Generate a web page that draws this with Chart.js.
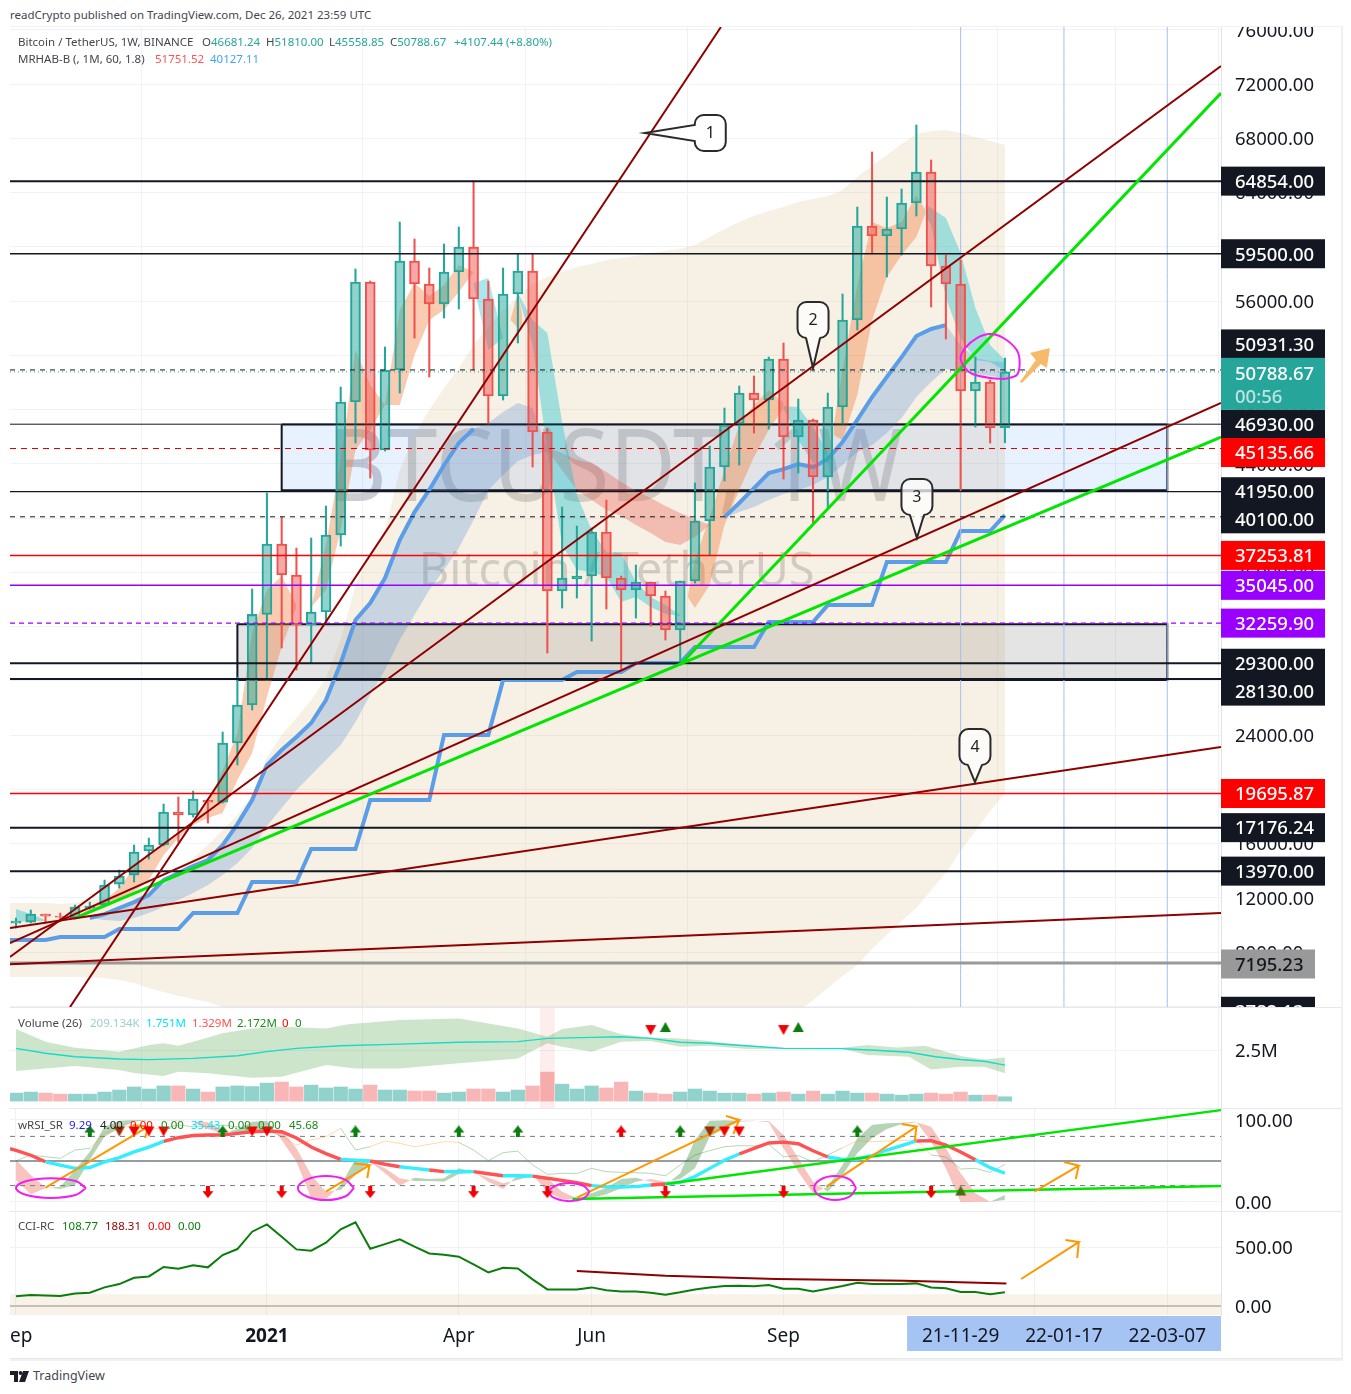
<!DOCTYPE html>
<html>
<head>
<meta charset="utf-8">
<title>BTCUSDT 1W</title>
<script src="https://cdn.jsdelivr.net/npm/chart.js@4"></script>
<style>
html, body { margin: 0; padding: 0; background: #fff; }
body { width: 1351px; height: 1394px; position: relative; overflow: hidden; font-family: "Noto Sans", sans-serif; }
canvas { position: absolute; left: 10px; background: #fff; }
#frame { position: absolute; left: 10px; top: 26px; width: 1331px; height: 1332px; background: #e6e8ee; border-right: 2px solid #f0f1f5; border-top: 1px solid #f0f1f5; border-bottom: 2px solid #f0f1f5; }
.t { position: absolute; white-space: nowrap; font-size: 11.5px; line-height: 14px; color: #43464f; z-index: 5; }
.up { color: #26a69a; }
</style>
</head>
<body>
<div id="frame"></div>
<canvas id="mainChart"></canvas>
<canvas id="volChart"></canvas>
<canvas id="rsiChart"></canvas>
<canvas id="cciChart"></canvas>

<div class="t" style="left:10px;top:8px">readCrypto published on TradingView.com, Dec 26, 2021 23:59 UTC</div>
<div class="t" style="left:18px;top:35px">Bitcoin / TetherUS, 1W, BINANCE</div>
<div class="t" style="left:202px;top:35px">O<span class="up">46681.24</span></div>
<div class="t" style="left:266px;top:35px">H<span class="up">51810.00</span></div>
<div class="t" style="left:329px;top:35px">L<span class="up">45558.85</span></div>
<div class="t" style="left:390px;top:35px">C<span class="up">50788.67</span></div>
<div class="t up" style="left:454px;top:35px">+4107.44 (+8.80%)</div>
<div class="t" style="left:18px;top:52px">MRHAB-B (, 1M, 60, 1.8)</div>
<div class="t" style="left:155px;top:52px;color:#ff5252">51751.52</div>
<div class="t" style="left:210px;top:52px;color:#42a5f5">40127.11</div>

<div class="t" style="left:18px;top:1016px">Volume (26)</div>
<div class="t" style="left:90px;top:1016px;color:#98d0ca">209.134K</div>
<div class="t" style="left:146px;top:1016px;color:#00e5ff">1.751M</div>
<div class="t" style="left:192px;top:1016px;color:#ff5252">1.329M</div>
<div class="t" style="left:237px;top:1016px;color:#1b8a1b">2.172M</div>
<div class="t" style="left:282px;top:1016px;color:#f00">0</div>
<div class="t" style="left:295px;top:1016px;color:#1b8a1b">0</div>

<div class="t" style="left:18px;top:1118px">wRSI_SR</div>
<div class="t" style="left:69px;top:1118px;color:#1a1aff">9.29</div>
<div class="t" style="left:100px;top:1118px;color:#222">4.00</div>
<div class="t" style="left:130px;top:1118px;color:#f00">0.00</div>
<div class="t" style="left:161px;top:1118px;color:#1b8a1b">0.00</div>
<div class="t" style="left:191px;top:1118px;color:#00e5ff">35.43</div>
<div class="t" style="left:228px;top:1118px;color:#1b8a1b">0.00</div>
<div class="t" style="left:258px;top:1118px;color:#1b8a1b">0.00</div>
<div class="t" style="left:289px;top:1118px;color:#1b8a1b">45.68</div>

<div class="t" style="left:18px;top:1219px">CCI-RC</div>
<div class="t" style="left:62px;top:1219px;color:#0a7d0a">108.77</div>
<div class="t" style="left:105px;top:1219px;color:#8b0000">188.31</div>
<div class="t" style="left:148px;top:1219px;color:#f00">0.00</div>
<div class="t" style="left:178px;top:1219px;color:#0a7d0a">0.00</div>

<svg style="position:absolute;left:10px;top:1371px" width="20" height="11" viewBox="0 0 20 11">
  <path d="M0 0h8v11H4V4H0z M9 11l4-11h6l-4 11z" fill="#1c1f28"/><circle cx="10.5" cy="2" r="1.9" fill="#1c1f28"/>
</svg>
<div class="t" style="left:33px;top:1369px;font-size:12.5px">TradingView</div>

<script>
const opens = [10141,10214,10804,10657,10509,11247,11468,13017,13681,15454,15896,18327,18106,19212,19064,23416,26218,32903,38092,35806,32118,33077,38756,48565,57415,45024,50924,58963,57267,55792,58152,59996,56161,49007,56530,58226,46352,34626,35511,35732,38977,35585,34702,35290,34257,31750,35363,39788,43771,46942,49228,48712,51736,45984,47237,43033,48196,54612,61545,60807,61323,63241,65527,58595,57267,49376,50040,46681];
const closes = [10288,10804,10657,10583,11321,11395,12943,13607,15377,15896,18327,18106,19286,19064,23416,26218,32903,38092,35806,32118,33077,38756,48565,57415,45024,50924,58963,57267,55792,58152,59996,56161,49007,56530,58226,46352,34626,35585,35732,38977,35585,34702,35290,34257,31750,35363,39788,43771,46868,49228,48712,51736,45984,47237,43033,48196,54612,61545,60807,61323,63241,65527,58595,57267,49376,50040,46647,50788];
const highs = [10509,11100,10804,10878,11468,11690,13312,14050,15896,16410,18917,19433,19876,19286,24227,28283,34773,41854,40083,37797,38535,40894,49671,58373,57488,52621,61840,60586,58447,60217,61471,64863,57488,58447,59480,59480,46647,40821,39419,39272,41337,35732,36543,35290,34626,35363,42590,45319,48122,49744,50482,51883,52916,48786,47311,49228,56530,62946,67002,63683,64273,68993,66412,59406,59037,51883,50188,51810];
const lows = [9772,10141,10141,10288,10435,11174,11395,12722,13165,14861,15822,16114,17958,17516,18990,21793,25850,28062,30422,28800,29316,32340,37944,45541,42959,44951,49228,53285,50409,54760,55423,50924,46868,48712,52916,43771,30053,33372,34110,30938,33298,28800,32635,32045,31012,29316,35216,37281,42738,43918,46278,46573,42886,43328,39641,40821,46868,53875,59480,57783,59406,62282,55571,53211,42075,46721,45541,45558];
const volumes = [0.39,0.44,0.39,0.34,0.34,0.34,0.44,0.54,0.69,0.59,0.74,0.74,0.59,0.44,0.69,0.74,0.71,0.88,0.93,0.69,0.78,0.64,0.69,0.59,0.78,0.54,0.54,0.49,0.49,0.39,0.44,0.59,0.59,0.44,0.54,0.74,1.42,0.83,0.59,0.74,0.64,0.93,0.49,0.39,0.34,0.44,0.59,0.49,0.39,0.39,0.34,0.39,0.44,0.34,0.49,0.34,0.49,0.39,0.39,0.34,0.29,0.34,0.39,0.34,0.44,0.29,0.29,0.21];

const mainTicks = [76000,72000,68000,64000,60000,56000,52000,48000,44000,40000,36000,32000,28000,24000,20000,16000,12000,8000,4000];
const xTicks = [0,17,30,39,52,64,69,71,78];
const xTickLabels = ["Sep","2021","Apr","Jun","Sep","21-11-29","","22-01-17","22-03-07"];

// MRHAB-B cloud, index by week
const beigeTop = [11620,11620,11620,11540,11620,11840,11980,12200,12430,12580,12940,13900,14940,15890,17000,18110,19580,22310,24010,25260,26590,28210,31010,35070,37280,39120,43550,46130,47970,49600,51070,52770,54100,55350,56310,57270,57780,58150,58520,58740,59040,59190,59330,59550,59700,59850,60140,60730,61320,61840,62280,62650,62950,63310,63540,63760,64200,65160,65970,66780,67590,68330,68550,68620,68400,68110,67810,67520];
const beigeBottom = [6160,6160,6160,6160,6160,6160,6080,5940,5720,5350,5050,4760,4540,4310,3950,3580,3140,2250,2250,2250,2250,2250,2250,2250,2250,2250,2250,2250,2250,2250,2250,2250,2250,2250,2250,2250,2250,2250,2250,2250,2250,2250,2250,2250,2250,2250,2250,2250,2250,2250,2250,2400,2840,3650,4460,5350,6230,7040,8220,9260,10290,11250,12580,13830,15450,16930,18400,19730];
const stepLine = [8890,8890,8890,9110,9110,9110,9110,9700,9700,9700,9700,9700,10880,10880,10880,10880,13170,13170,13170,13170,15600,15600,15600,15600,19210,19210,19210,19210,19210,24000,24000,24000,24000,28060,28060,28060,28060,28060,28650,28650,28650,28650,29320,29320,29320,29320,30500,30500,30500,30500,30500,32340,32340,32340,32340,33590,33590,33590,33590,36760,36760,36760,36760,36760,39050,39050,39050,40230];

// bands as [week, top, bottom]
const orangeBands = [
  [[4,10510,10510],[5,11250,10950],[6,11840,11250],[7,12720,11840],[8,14270,12430],[9,15300,13310],[10,15900,15160],[11,16630,16410],[12,17590,17370],[13,18990,17880],[14,21420,18250],[15,24150,20690],[16,31530,22680],[17,34700,26810],[18,35730,30500],[19,33590,33450]],
  [[20,33450,33450],[21,38020,34700],[22,44290,39120],[23,52400,45020],[24,49820,46500],[25,48340,48340]],
  [[25,48340,48340],[26,55350,48340],[27,57340,52030],[28,56380,54610],[29,57190,55350],[30,58670,56680],[31,58150,58150]],
  [[33.5,54610,54610],[34,56600,54020],[34.3,55000,54000]],
  [[45.5,34200,34200],[46,36910,33370],[47,40080,35070],[48,43550,39490],[49,46870,42070],[50,48340,44510],[51,49450,46500],[52,48490,48120]],
  [[55.4,46870,46130],[56,50920,45760],[57,57190,49080],[58,61840,54610],[59,61400,57780],[60,61840,59410],[61,63830,60730],[61.6,62720,62430]]
];
const cyanBands = [
  [[0,11170,10210],[1,10800,10290],[2,10360,10290]],
  [[31,57340,57190],[32,57710,52400],[33,53280,53280]],
  [[34,56600,56450],[35,54610,52770],[36,53650,45020],[37,47090,38020],[38,41700,36170],[39,39120,36030],[40,37500,35660],[41,37430,33820],[42,35290,34180],[43,34180,33450],[44,33590,32930],[45,32860,32780]],
  [[52,48270,48120],[53,48200,45760],[54,46720,44070],[55,44880,44440]],
  [[61.6,63090,62350],[62,62870,61620],[63,62130,56240],[64,59550,53280],[65,55500,51660],[66,52770,51510],[67,51660,50850]]
];
const pinkBand = [[36,45170,45020],[37,44800,43550],[38,44290,42080],[39,44070,41340],[40,43400,40600],[41,42670,40160],[42,42000,39490],[43,41480,38900],[44,40900,38240],[45,40380,38020],[46,39940,38610],[47,39490,39490]];
const blueBandA = [[5,10510,10510],[6,10800,10360],[7,11250,10290],[8,11690,10510],[9,12200,10880],[10,13310,11320],[11,13830,11840],[12,14350,12350],[13,14790,12940],[14,15890,13680],[15,17440,14570],[16,19210,15670],[17,21790,17290],[18,22900,18620],[19,23860,19950],[20,24890,21050],[21,26590,22160],[22,29320,23270],[23,32490,24970],[24,33740,26960],[25,35580,28800],[26,38390,31010],[27,40450,32860],[28,42080,34700],[29,43920,36170],[30,45540,37800],[31,46570,39860],[32,47020,42080],[33,47830,43180],[34,48490,44210],[35,48120,44660],[36,45020,44880]];
const blueBandB = [[48,40080,40010],[49,41120,40450],[50,42220,40820],[51,43330,41340],[52,43620,41780],[53,43990,42080],[54,43770,42440],[55,44360,43030],[56,45620,43920],[57,47240,44880],[58,48930,45390],[59,50410,46280],[60,51880,47380],[61,53430,48930],[62,53950,50040],[63,54240,51000],[64,52770,50780],[65,51810,50630],[66,51590,50480],[67,51510,50330]];

// drawn levels and trend lines
const levelPrices = [64854,59500,50931.3,50788.67,46930,45135.66,41950,40100,37253.81,35045,32259.9,29300,28130,19695.87,17176.24,13970,7195.23];
const levelColors = ["#131722","#131722","#131722","#26a69a","#131722","#e00000","#131722","#131722","#ff0000","#9900ff","#9900ff","#131722","#131722","#ff0000","#131722","#131722","#999999"];
const levelWidths = [2,1.3,1,1,1,1.2,1.2,1,1.5,1.5,1.2,2,2,1.5,2,2,3];
const levelDashes = [[],[],[5,5],[1,3],[],[6,5],[],[5,5],[],[],[5,4],[],[],[],[],[],[]];
const redTrends = [[3.66,3946,47.76,76221],[-0.41,7634,81.64,73344],[-0.41,8666,81.64,48491],[-0.41,9772,81.64,23121],[-0.41,7109,81.64,10878]];
const greenTrends = [[4,10510,81.64,45984],[44.99,29168,81.64,71353]];
const boxBlue = [[18,46900],[78,46900],[78,42050],[18,42050],[18,46900]];
const boxGrey = [[15,32180],[78,32180],[78,28060],[15,28060],[15,32180]];
const dateLines = [64,71,78];
const mainRing = [[67,50261],[67.8,50556],[68,51441],[67.8,52400],[66.9,53285],[66,53580],[65.1,53285],[64.3,52547],[64,51810],[64.3,51072],[64.8,50630],[66,50335],[67,50261]];
const mainArrow = [[68.02,50040],[69.1,51662],[68.7,52178],[70.05,52547],[69.85,51072],[69.44,51367],[68.16,49966],[68.02,50040]];
const calloutWeeks = [42.6,54,61.04,64.97];
const calloutPrices = [68403,51072,38535,20540];
const calloutNames = ["1","2","3","4"];

const tagTexts = ["64854.00","59500.00","50931.30","46930.00","45135.66","41950.00","40100.00","37253.81","35045.00","32259.90","29300.00","28130.00","19695.87","17176.24","13970.00","7195.23","3782.13"];
const tagPrices = [64854,59500,50931.3,46930,45135.66,41950,40100,37253.81,35045,32259.9,29300,28130,19695.87,17176.24,13970,7195.23,3782.13];
const tagNudges = [0,0,-26,0,4,0,2,0,0,0,0,12,0,0,0,1,2];
const tagColors = ["#131722","#131722","#131722","#131722","#ff0000","#131722","#131722","#ff0000","#9900ff","#9900ff","#131722","#131722","#ff0000","#131722","#131722","#999999","#131722"];

// volume pane
const volMA = [[0,2.58],[2,2.34],[4,2.17],[7,2.06],[9,2.03],[12,2.09],[15,2.22],[17,2.42],[19,2.58],[22,2.71],[26,2.79],[30,2.88],[34,2.91],[36,3.07],[39,3.12],[41,3.15],[43,3.07],[45,2.88],[47,2.83],[49.5,2.71],[52,2.58],[56,2.57],[58.5,2.48],[60.5,2.39],[62.3,2.17],[64,2.04],[65.6,1.95],[67,1.76]];
const volUpper = [[0,3.53],[2,2.91],[4,2.61],[7,2.42],[8,2.58],[9,2.75],[10,2.83],[11,2.71],[12,2.91],[14,3.32],[16,3.56],[18,3.64],[21,3.56],[22.5,3.76],[26,3.97],[30,4.05],[34,3.56],[36,3.15],[37,3.53],[39,3.73],[41,3.27],[43,3.12],[45,3.07],[47,2.94],[49.5,2.71],[52,2.61],[56,2.61],[57.7,2.75],[59.7,2.63],[61.6,2.71],[64,2.21],[65.6,2.04],[67,2.14]];
const volLower = [[0,1.47],[4,1.72],[7,1.52],[8,1.37],[10,1.23],[11,1.44],[13,1.36],[16,1.14],[18,1.19],[21,1.77],[23,1.6],[26,1.6],[30,1.85],[34,2.09],[36,2.83],[37,2.66],[39,2.42],[41,2.91],[43,2.94],[45,2.66],[47,2.71],[49.5,2.55],[52,2.55],[56,2.55],[57.7,2.26],[60.5,2.17],[62,1.55],[64,1.68],[65.6,1.68],[67,1.36]];
const volSellFlags = [[43,3.48],[52,3.48]];
const volBuyFlags = [[44,3.63],[53,3.63]];
const volSpikeWeek = 36;

// wRSI pane
const rsiMain = [63,57,49,45,41,42,49,54,61,67,74,78.4,81,81.7,81.7,83.7,85.7,86.5,85.7,78,67,59,52,51,50,46,43,41,39,37,37,37,34.5,32,32,31.6,29,26.4,23.5,20,18.7,18.3,18.7,20.7,22,24,31,41,51,58.5,65.4,72,73,71,62.5,54.8,52,52.4,56.5,63.4,68.7,74.4,74.8,69.5,61,51.6,41.8,35];
const rsiRedWeeks = [[0,2],[10,22],[24,26],[28,29],[31,33],[35,39],[43,44],[49,55],[61,65]];
const rsiThin = [50.4,57.3,55.2,53.2,63.4,65.4,83.7,91.8,91.8,89,89.8,93.9,91.8,91.8,93.9,91.8,86.5,87.8,79.6,69.5,75.6,79.6,89.8,63.4,67.4,74.4,71.5,67.4,70.3,73.5,72.7,63.4,50.4,60.1,62.1,45.1,33.7,34.9,34.9,41,37,36.1,35.7,34.9,32,45.1,57.3,62.6,67.4,68.7,68.3,70.3,55.2,56.5,49.1,57.3,66.2,74.8,73.5,74.4,74.8,76,57.3,54.8,40.2,41,36.1,45.9];
const rsiThinOrangeWeeks = [[5,10],[18,22],[24,30],[56,62]];
const stochK = [26.8,9.3,16.6,18.6,39,61.3,91.8,99.1,100,100,100,99.6,98,89,83.7,89,97.9,98.7,75.6,49.1,4.4,3.2,20.7,52,49.1,34.9,19.9,29.6,28,28.8,41,37,24.8,15.8,32.9,32.9,12.6,3.2,3.2,10.5,17.4,28,29.6,24.8,20.7,34.9,75.6,99.1,99.6,99.1,99.1,97.1,65.4,37,10.5,18.6,45.1,77.6,93.9,95.9,96.7,97.9,73.5,41,-0.4,0.4,0.4,8.5];
const stochD = [51.2,32.9,17.8,15.8,20.7,51.2,79.6,89.8,97.9,99.6,99.6,99.1,98,97.1,87.8,83.7,86.5,87.8,87.8,65.4,32.9,12.6,14.6,32.9,49.1,41,28.8,25.6,25.6,24.8,34.1,35.7,29.6,22.7,26.8,32,28.8,12.6,4.4,4.4,9.3,16.6,24.8,28,24.8,28,41,79.6,89.8,97.9,98.7,98.7,81.7,53.2,24.8,12.6,32.9,59.3,77.6,89,94.7,97.1,91.8,65.4,34.9,10.5,0.4,2.4];
const rsiLevels = [80,50,20];
const rsiGreenTrends = [[37.7,3.66,81.64,19.5],[44,22,81.64,112]];
const rsiBuyArrows = [[5,86],[14,86],[23,86],[30,86],[34,86],[45,86],[57,86]];
const rsiRedUpArrows = [[41,86]];
const rsiSellTop = [[8,86],[9,86],[10,86],[16,86],[17,86],[48,86],[49,86]];
const rsiSellTopDark = [[7,86],[47,86]];
const rsiSellArrows = [[13,12],[18,12],[24,12],[31,12],[36,12],[44,12],[52,12],[62,12]];
const rsiOliveFlag = [[64,14]];
const rsiRings = [
  [[4.74,17],[4.03,25.5],[2.37,29],[0.71,25.5],[0,17],[0.71,8.5],[2.37,5],[4.03,8.5],[4.74,17]],
  [[22.9,17],[22.3,27.3],[21,31.6],[19.7,27.3],[19.1,17],[19.7,6.7],[21,2.4],[22.3,6.7],[22.9,17]],
  [[38.86,12],[38.45,19.7],[37.5,23],[36.55,19.7],[36.14,12],[36.55,4.3],[37.5,1],[38.45,4.3],[38.86,12]],
  [[56.92,17],[56.5,27.3],[55.5,31.6],[54.5,27.3],[54.08,17],[54.5,6.7],[55.5,2.4],[56.5,6.7],[56.92,17]]
];
// [start, tip, barb, barb]
const rsiArrows = [
  [[2,17.5],[8.95,91.9],[7.9,94],[8.75,78]],
  [[21,12.6],[23.95,45],[22.9,47],[23.8,29]],
  [[38,5.3],[49,100],[48.1,105],[48.6,83]],
  [[54.9,18.7],[61,91.9],[60,95],[60.9,74]],
  [[69,12.6],[72,44.3],[71,48.8],[71.8,28]]
];

// CCI pane
const cciLine = [82,93,90,85,107,113,158,186,240,251,331,316,345,328,432,483,630,692,588,480,469,537,650,709,486,525,565,503,446,435,418,353,285,325,319,226,141,141,141,158,133,124,124,113,96,116,141,158,170,172,167,178,147,147,124,147,170,198,186,186,186,192,158,150,119,119,99,116];
const cciTrend = [[38,297],[44,257],[51.5,229],[60.2,215],[67.1,192]];
const cciArrow = [[68.1,229],[72,542],[71.1,559],[71.9,407]];

const xMin = -0.4065, xMax = 81.64;
const MONO = '"Noto Sans", sans-serif';
const weeks = opens.map((_, i) => i);

function tagPlugin(chart) {
    const ctx = chart.ctx, y = chart.scales.y, left = chart.chartArea.right;
    ctx.save();
    ctx.textBaseline = "middle";
    ctx.textAlign = "left";
    tagTexts.forEach((text, i) => {
        const cy = y.getPixelForValue(tagPrices[i]) + tagNudges[i];
        const short = text.length < 8;
        ctx.fillStyle = tagColors[i];
        ctx.fillRect(left, cy - 14.5, short ? 94 : 104, 29);
        ctx.fillStyle = tagColors[i] === "#999999" ? "#131722" : "#fff";
        ctx.font = "500 18.5px " + MONO;
        ctx.fillText(text, left + 14, cy + 1.5);
    });
    // live price tag with countdown
    const cy = y.getPixelForValue(50788.67) + 12;
    ctx.fillStyle = "#26a69a";
    ctx.fillRect(left, cy - 26, 104, 52);
    ctx.fillStyle = "#fff";
    ctx.fillText("50788.67", left + 14, cy - 9.5);
    ctx.fillStyle = "rgba(255,255,255,0.7)";
    ctx.fillText("00:56", left + 14, cy + 13.5);
    ctx.restore();
}

function watermark(chart) {
    const ctx = chart.ctx, x = chart.scales.x, y = chart.scales.y;
    ctx.save();
    ctx.fillStyle = "rgba(120,123,134,0.38)";
    ctx.textBaseline = "middle";
    ctx.textAlign = "center";
    ctx.font = "101px " + MONO;
    ctx.fillText("BTCUSDT, 1W", x.getPixelForValue(40.6), y.getPixelForValue(43400), 575);
    ctx.font = "47.5px " + MONO;
    ctx.fillText("Bitcoin / TetherUS", x.getPixelForValue(40.7), y.getPixelForValue(36030), 396);
    ctx.restore();
}

function callouts(chart) {
    const ctx = chart.ctx, x = chart.scales.x, y = chart.scales.y;
    ctx.save();
    ctx.strokeStyle = "#2a2a2a";
    ctx.lineWidth = 2;
    calloutNames.forEach((name, i) => {
        const tx = x.getPixelForValue(calloutWeeks[i]), ty = y.getPixelForValue(calloutPrices[i]);
        const w = 31, h = 36, r = 9;
        let bx, by;
        if (i === 0) { bx = tx + 50; by = ty - 18; }
        else { bx = tx - 15.5; by = ty - h - (i === 1 ? 30 : (i === 2 ? 23 : 17)); }
        ctx.beginPath();
        ctx.moveTo(bx + r, by);
        ctx.arcTo(bx + w, by, bx + w, by + h, r);
        ctx.arcTo(bx + w, by + h, bx, by + h, r);
        if (i > 0) {
            ctx.lineTo(tx + 7, by + h);
            ctx.lineTo(tx, ty);
            ctx.lineTo(tx - 7, by + h);
        }
        ctx.arcTo(bx, by + h, bx, by, r);
        if (i === 0) {
            ctx.lineTo(bx, ty + 8);
            ctx.lineTo(tx, ty);
            ctx.lineTo(bx, ty - 8);
        }
        ctx.arcTo(bx, by, bx + w, by, r);
        ctx.closePath();
        ctx.fillStyle = "rgba(255,255,255,0.75)";
        ctx.fill();
        ctx.stroke();
        ctx.fillStyle = "#222";
        ctx.font = "16px " + MONO;
        ctx.textAlign = "center";
        ctx.textBaseline = "middle";
        ctx.fillText(name, bx + w / 2, by + h / 2);
    });
    ctx.restore();
}

function marker(kind, color) {
    const c = document.createElement("canvas");
    c.width = 12; c.height = 12;
    const g = c.getContext("2d");
    g.fillStyle = color;
    g.beginPath();
    const paths = {
        up: [[6,0],[11.5,7],[8,7],[8,12],[4,12],[4,7],[0.5,7]],
        down: [[4,0],[8,0],[8,5],[11.5,5],[6,12],[0.5,5],[4,5]],
        triDown: [[0.5,1],[11.5,1],[6,11]],
        triUp: [[6,1],[11.5,11],[0.5,11]]
    };
    paths[kind].forEach((p, i) => i ? g.lineTo(p[0], p[1]) : g.moveTo(p[0], p[1]));
    g.closePath();
    g.fill();
    return c;
}

function line(data, opts) {
    return Object.assign({
        type: "line", data: data, borderColor: "transparent", borderWidth: 0,
        pointRadius: 0, fill: false, tension: 0, order: 50
    }, opts);
}
const toXY = pairs => pairs.map(p => ({ x: p[0], y: p[1] }));
const seg = (x1, y1, x2, y2, color, width, opts) =>
    line([{ x: x1, y: y1 }, { x: x2, y: y2 }], Object.assign({ borderColor: color, borderWidth: width }, opts));

function band(triples, color, order) {
    return [
        line(triples.map(t => ({ x: t[0], y: t[1] })), { fill: "+1", backgroundColor: color, order: order }),
        line(triples.map(t => ({ x: t[0], y: t[2] })), { order: order })
    ];
}
function bandFromLists(top, bottom, color, order) {
    return [
        line(top, { fill: "+1", backgroundColor: color, order: order }),
        line(bottom, { order: order })
    ];
}
function flags(points, kind, color) {
    return line(toXY(points), { showLine: false, pointStyle: marker(kind, color), pointRadius: 6, order: 5 });
}
function arrowLine(a, color, order) {
    const path = [a[0], a[1], a[2], a[1], a[3]];
    return line(toXY(path), { borderColor: color, borderWidth: 2, tension: 0.0001, order: order });
}

function xScale(showLabels) {
    return {
        type: "linear", min: xMin, max: xMax, offset: false,
        afterBuildTicks: s => { s.ticks = xTicks.map(v => ({ value: v })); },
        afterFit: s => { s.height = showLabels ? 43 : 0; s.paddingLeft = 0; s.paddingRight = 0; },
        border: { display: false },
        grid: {
            drawTicks: false,
            color: c => (c.tick && [64, 71].includes(c.tick.value) ? "transparent" : "#eff1f5")
        },
        ticks: {
            display: showLabels, autoSkip: false, maxRotation: 0, padding: 10, color: "#131722",
            font: c => ({ family: "Noto Sans", size: 19, weight: c.tick && c.tick.value === 17 ? "bold" : "normal" }),
            callback: v => xTickLabels[xTicks.indexOf(v)]
        }
    };
}
function yScale(min, max, ticks, label) {
    return {
        position: "right", min: min, max: max,
        afterBuildTicks: s => { s.ticks = ticks.map(v => ({ value: v })); },
        afterFit: s => {
            s.width = 120; s.paddingTop = 0; s.paddingBottom = 0;
            // Noto sits high with middle baseline, push the labels down a bit
            if (!s._labelsNudged) {
                const compute = s._computeLabelItems;
                s._computeLabelItems = function (area) {
                    const items = compute.call(this, area);
                    items.forEach(it => { it.options.translation[1] += 1.5; });
                    return items;
                };
                s._labelsNudged = true;
            }
        },
        border: { color: "#e0e3eb" },
        grid: { drawTicks: false, color: "#f1f2f6" },
        ticks: { autoSkip: false, padding: 14, color: "#131722", font: { family: "Noto Sans", size: 18.5 }, callback: label }
    };
}
function makeChart(id, top, height, datasets, y, showX, plugins) {
    const el = document.getElementById(id);
    el.style.top = top + "px";
    el.width = 1331;
    el.height = height;
    el.style.width = "1331px";
    el.style.height = height + "px";
    return new Chart(el.getContext("2d"), {
        type: "line",
        data: { datasets: datasets },
        options: {
            responsive: false, animation: false, devicePixelRatio: 1, events: [],
            layout: { padding: 0, autoPadding: false },
            plugins: { legend: { display: false }, tooltip: { enabled: false } },
            scales: { x: xScale(showX), y: y }
        },
        plugins: plugins || []
    });
}

// ---------- main pane
const mainSets = [];
mainSets.push(...bandFromLists(
    [{ x: xMin, y: beigeTop[0] }].concat(weeks.map(i => ({ x: i, y: beigeTop[i] }))),
    [{ x: xMin, y: beigeBottom[0] }].concat(weeks.map(i => ({ x: i, y: beigeBottom[i] }))),
    "rgba(224,196,150,0.26)", 100));
mainSets.push(line(toXY(boxBlue), { fill: "shape", backgroundColor: "rgba(33,120,243,0.1)", borderColor: "#131722", borderWidth: 2, tension: 0.0001, order: 96 }));
mainSets.push(line(toXY(boxGrey), { fill: "shape", backgroundColor: "rgba(120,120,120,0.2)", borderColor: "#131722", borderWidth: 2, tension: 0.0001, order: 95 }));
orangeBands.forEach(b => mainSets.push(...band(b, "rgba(240,120,50,0.38)", 90)));
cyanBands.forEach(b => mainSets.push(...band(b, "rgba(0,190,205,0.35)", 90)));
mainSets.push(...band(pinkBand, "rgba(235,85,70,0.33)", 90));
mainSets.push(...band(blueBandA, "rgba(80,140,210,0.28)", 91));
mainSets.push(...band(blueBandB, "rgba(80,140,210,0.28)", 91));
mainSets.push(line(blueBandA.slice(0, 27).map(t => ({ x: t[0], y: t[1] })), { borderColor: "#5b9de6", borderWidth: 4, order: 80 }));
mainSets.push(line(blueBandB.slice(0, 16).map(t => ({ x: t[0], y: t[1] })), { borderColor: "#5b9de6", borderWidth: 4, order: 80 }));
mainSets.push(line([{ x: xMin, y: stepLine[0] }].concat(weeks.map(i => ({ x: i, y: stepLine[i] }))), { borderColor: "#5b9de6", borderWidth: 4, order: 80 }));
dateLines.forEach(w => mainSets.push(seg(w, 0, w, 80000, "#a4c0f0", 1, { tension: 0.0001, order: 78 })));

const candleUp = weeks.map(i => closes[i] >= opens[i]);
const candleColor = weeks.map(i => candleUp[i] ? "#26a69a" : "#ef5350");
// wick in two parts so nothing shows through the see-through body
mainSets.push({
    type: "bar", grouped: false, barThickness: 1.4, order: 61,
    data: weeks.map(i => ({ x: i, y: [Math.max(opens[i], closes[i]), highs[i]] })),
    backgroundColor: candleColor
});
mainSets.push({
    type: "bar", grouped: false, barThickness: 1.4, order: 61,
    data: weeks.map(i => ({ x: i, y: [lows[i], Math.min(opens[i], closes[i])] })),
    backgroundColor: candleColor
});
mainSets.push({
    type: "bar", grouped: false, barThickness: 10, order: 60, borderSkipped: false, borderWidth: 1.4, minBarLength: 1,
    data: weeks.map(i => ({ x: i, y: [opens[i], closes[i]] })),
    backgroundColor: weeks.map(i => candleUp[i] ? "rgba(38,166,154,0.5)" : "rgba(239,83,80,0.5)"),
    borderColor: candleColor
});
levelPrices.forEach((p, i) => mainSets.push(seg(xMin, p, xMax, p, levelColors[i], levelWidths[i], { borderDash: levelDashes[i], order: 55 })));
redTrends.forEach(t => mainSets.push(seg(t[0], t[1], t[2], t[3], "#8f0000", 2, { order: 50 })));
greenTrends.forEach(t => mainSets.push(seg(t[0], t[1], t[2], t[3], "#00e600", 3, { order: 51 })));
mainSets.push(line(toXY(mainRing), { borderColor: "#f01ef0", borderWidth: 2, tension: 0.35, order: 40 }));
mainSets.push(line(toXY(mainArrow), { fill: "shape", backgroundColor: "#f6ba6a", tension: 0.0001, order: 41 }));

makeChart("mainChart", 27, 980, mainSets,
    yScale(3950, 76221, mainTicks, v => v.toFixed(2)), false,
    [{ id: "mainDeco", beforeDatasetsDraw: watermark, afterDatasetsDraw: callouts, afterDraw: tagPlugin }]);

// ---------- volume pane
const volSets = [];
volSets.push(...bandFromLists(toXY(volUpper), toXY(volLower), "rgba(76,160,70,0.28)", 90));
volSets.push(line(toXY(volMA), { borderColor: "#19d9c8", borderWidth: 1.4, order: 60 }));
volSets.push({
    type: "bar", grouped: false, barThickness: 14, order: 95,
    data: [{ x: volSpikeWeek, y: [-0.34, 4.56] }], backgroundColor: "rgba(239,83,80,0.1)"
});
volSets.push({
    type: "bar", grouped: false, barThickness: 13.6, order: 70,
    data: weeks.map(i => ({ x: i, y: volumes[i] })),
    backgroundColor: weeks.map(i => candleUp[i] ? "rgba(38,166,154,0.5)" : "rgba(239,83,80,0.42)")
});
volSets.push(flags(volSellFlags, "triDown", "#f00000"));
volSets.push(flags(volBuyFlags, "triUp", "#0a7d0a"));
makeChart("volChart", 1008, 100, volSets, yScale(-0.34, 4.56, [2.5], v => v + "M"), false);

// ---------- wRSI pane
const inRanges = (i, ranges) => ranges.some(r => i >= r[0] && i < r[1]);
const rsiSets = [];
rsiSets.push(line(weeks.map(i => ({ x: i, y: stochK[i] })), {
    fill: { target: "+1", above: "rgba(60,140,60,0.38)", below: "rgba(240,100,90,0.38)" }, order: 90
}));
rsiSets.push(line(weeks.map(i => ({ x: i, y: stochD[i] })), { order: 90 }));
rsiLevels.forEach((v, i) => rsiSets.push(seg(xMin, v, xMax, v, "#787b86", i === 1 ? 1.4 : 1, { borderDash: i === 1 ? [] : [5, 5], order: 85 })));
rsiSets.push(line(weeks.map(i => ({ x: i, y: rsiThin[i] })), {
    borderColor: "rgba(0,128,0,0.3)", borderWidth: 1, order: 70,
    segment: { borderColor: c => inRanges(c.p0DataIndex, rsiThinOrangeWeeks) ? "rgba(255,152,0,0.35)" : "rgba(0,128,0,0.3)" }
}));
rsiSets.push(line([{ x: xMin, y: 65 }].concat(weeks.map(i => ({ x: i, y: rsiMain[i] }))), {
    borderColor: "#33eeff", borderWidth: 3.4, order: 60,
    segment: { borderColor: c => (c.p0DataIndex === 0 || inRanges(c.p0DataIndex - 1, rsiRedWeeks)) ? "#ff5252" : "#33eeff" }
}));
rsiGreenTrends.forEach(t => rsiSets.push(seg(t[0], t[1], t[2], t[3], "#00e600", 2.4, { order: 55 })));
rsiArrows.forEach(a => rsiSets.push(arrowLine(a, "#ff9800", 50)));
rsiRings.forEach(r => rsiSets.push(line(toXY(r), { borderColor: "#f01ef0", borderWidth: 2, tension: 0.4, order: 45 })));
rsiSets.push(flags(rsiBuyArrows, "up", "#0a7d0a"));
rsiSets.push(flags(rsiRedUpArrows, "up", "#f00000"));
rsiSets.push(flags(rsiSellTop, "triDown", "#f00000"));
rsiSets.push(flags(rsiSellTopDark, "triDown", "#a02c00"));
rsiSets.push(flags(rsiSellArrows, "down", "#f00000"));
rsiSets.push(flags(rsiOliveFlag, "triUp", "#4a6b10"));
makeChart("rsiChart", 1109, 102, rsiSets, yScale(-11, 113.4, [0, 100], v => v.toFixed(2)), false);

// ---------- CCI pane
const cciSets = [];
cciSets.push(...bandFromLists(
    [{ x: xMin, y: 100 }, { x: xMax, y: 100 }], [{ x: xMin, y: -76 }, { x: xMax, y: -76 }],
    "rgba(224,196,150,0.22)", 95));
cciSets.push(seg(xMin, 0, xMax, 0, "#b7b0a8", 1.4, { order: 90 }));
cciSets.push(line(weeks.map(i => ({ x: i, y: cciLine[i] })), { borderColor: "#0a7d0a", borderWidth: 2, order: 60 }));
cciSets.push(line(toXY(cciTrend), { borderColor: "#8b0000", borderWidth: 2, order: 55 }));
cciSets.push(arrowLine(cciArrow, "#ff9800", 50));
makeChart("cciChart", 1212, 146, cciSets, yScale(-76, 797, [0, 500], v => v.toFixed(2)), true, [{
    id: "dateBox",
    beforeDraw: chart => {
        const ctx = chart.ctx, a = chart.chartArea;
        ctx.save();
        ctx.fillStyle = "#a6c4f3";
        const left = chart.scales.x.getPixelForValue(60.37);
        ctx.fillRect(left, a.bottom + 1, a.right - left, 35);
        ctx.restore();
    }
}]);
</script>
</body>
</html>
